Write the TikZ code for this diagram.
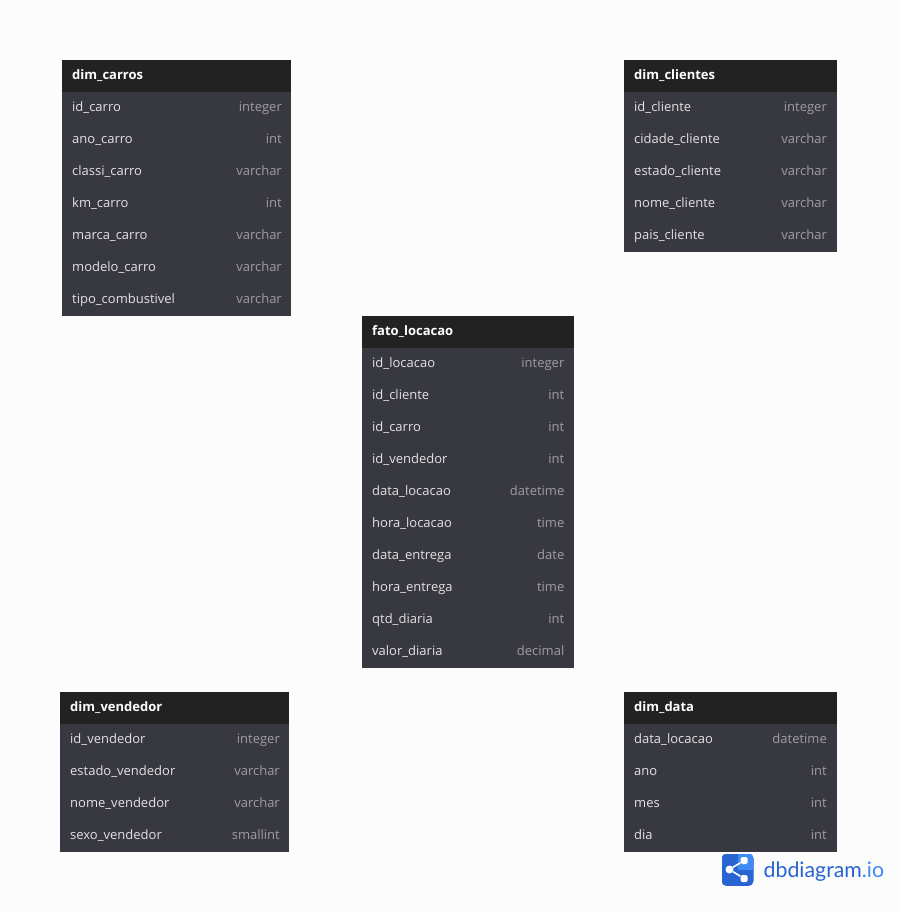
\documentclass[tikz,border=0pt]{standalone}
\usepackage{fontspec}
\setmainfont{Open Sans}
\newfontfamily\logofont{Lato}
\definecolor{pagebg}{HTML}{FCFCFC}
\definecolor{rowbg}{HTML}{373840}
\definecolor{headbg}{HTML}{222222}
\definecolor{nametxt}{HTML}{E2E2E4}
\definecolor{typetxt}{HTML}{9E9EA2}
\definecolor{logodark}{HTML}{2864D2}
\definecolor{logolight}{HTML}{3E8BF3}

\begin{document}
\begin{tikzpicture}[x=1pt, y=-1pt]
\tikzset{tablebody/.style={fill=rowbg,draw=none,inner sep=0,anchor=north west}}
\tikzset{tablehead/.style={fill=headbg,draw=none,inner sep=0,anchor=north west,minimum height=32pt}}
\tikzset{headtxt/.style={anchor=base west,inner sep=0,yshift=-0.5pt,text=white,font=\fontsize{13}{15}\selectfont\bfseries}}
\tikzset{nametxt/.style={anchor=base west,inner sep=0,yshift=-0.5pt,text=nametxt,font=\fontsize{13}{15}\selectfont}}
\tikzset{typetxt/.style={anchor=base east,inner sep=0,yshift=-0.5pt,text=typetxt,font=\fontsize{13}{15}\selectfont}}
\tikzset{logodot/.style={circle,fill=white,inner sep=0,minimum size=#1}}
\tikzset{logosquare/.style={rectangle,rounded corners=1.5pt,fill=white,inner sep=0,minimum size=#1}}

\fill[pagebg] (0,0) rectangle (901,912);
\useasboundingbox (0,0) rectangle (901,912);

% dim_carros
\node[tablehead,minimum width=229pt] (carros) at (62,60) {};
\node[tablebody,minimum width=229pt,minimum height=224pt] (carrosbody) at (62,92) {};
\node[headtxt] (carrostitle) at (72,79) {dim\_carros};
\foreach \y/\n/\t in {111/id\_carro/integer,143/ano\_carro/int,175/classi\_carro/varchar,207/km\_carro/int,
  239/marca\_carro/varchar,271/modelo\_carro/varchar,303/tipo\_combustivel/varchar}{
  \node[nametxt] (carros-n\y) at (72,\y) {\n};
  \node[typetxt] (carros-t\y) at (282,\y) {\t};
}

% dim_clientes
\node[tablehead,minimum width=212.5pt] (clientes) at (624,60) {};
\node[tablebody,minimum width=212.5pt,minimum height=160pt] (clientesbody) at (624,92) {};
\node[headtxt] (clientestitle) at (634,79) {dim\_clientes};
\foreach \y/\n/\t in {111/id\_cliente/integer,143/cidade\_cliente/varchar,175/estado\_cliente/varchar,
  207/nome\_cliente/varchar,239/pais\_cliente/varchar}{
  \node[nametxt] (clientes-n\y) at (634,\y) {\n};
  \node[typetxt] (clientes-t\y) at (827,\y) {\t};
}

% fato_locacao
\node[tablehead,minimum width=212pt] (fato) at (362,316) {};
\node[tablebody,minimum width=212pt,minimum height=320pt] (fatobody) at (362,348) {};
\node[headtxt] (fatotitle) at (372,335) {fato\_locacao};
\foreach \y/\n/\t in {367/id\_locacao/integer,399/id\_cliente/int,431/id\_carro/int,463/id\_vendedor/int,
  495/data\_locacao/datetime,527/hora\_locacao/time,559/data\_entrega/date,591/hora\_entrega/time,
  623/qtd\_diaria/int,655/valor\_diaria/decimal}{
  \node[nametxt] (fato-n\y) at (372,\y) {\n};
  \node[typetxt] (fato-t\y) at (564.5,\y) {\t};
}

% dim_vendedor
\node[tablehead,minimum width=229pt] (vendedor) at (60,692) {};
\node[tablebody,minimum width=229pt,minimum height=128pt] (vendedorbody) at (60,724) {};
\node[headtxt] (vendedortitle) at (70,711) {dim\_vendedor};
\foreach \y/\n/\t in {743/id\_vendedor/integer,775/estado\_vendedor/varchar,807/nome\_vendedor/varchar,839/sexo\_vendedor/smallint}{
  \node[nametxt] (vendedor-n\y) at (70,\y) {\n};
  \node[typetxt] (vendedor-t\y) at (280,\y) {\t};
}

% dim_data
\node[tablehead,minimum width=212.5pt] (data) at (624,692) {};
\node[tablebody,minimum width=212.5pt,minimum height=128pt] (databody) at (624,724) {};
\node[headtxt] (datatitle) at (634,711) {dim\_data};
\foreach \y/\n/\t in {743/data\_locacao/datetime,775/ano/int,807/mes/int,839/dia/int}{
  \node[nametxt] (data-n\y) at (634,\y) {\n};
  \node[typetxt] (data-t\y) at (827,\y) {\t};
}

% logo
\begin{scope}
\clip[rounded corners=5pt] (721.5,853.5) rectangle (753.5,886);
\fill[logodark] (721.5,853.5) rectangle (753.5,886);
\fill[logolight] (738,853.5) rectangle (753.5,869.5);
\end{scope}
\node[logodot=8pt] (logoa) at (729.5,869.5) {};
\node[logosquare=7pt] (logob) at (744,860.5) {};
\node[logosquare=7pt] (logoc) at (744,878.5) {};
\draw[white,line width=1.6pt] (logob) -- (logoa) -- (logoc);
\node[anchor=base west,inner sep=0,font=\logofont\fontsize{21.3}{24}\selectfont,text=logodark] (logotxt) at (763.5,877.5)
  {dbdiagram\textcolor{logolight}{.io}};

\end{tikzpicture}
\end{document}
